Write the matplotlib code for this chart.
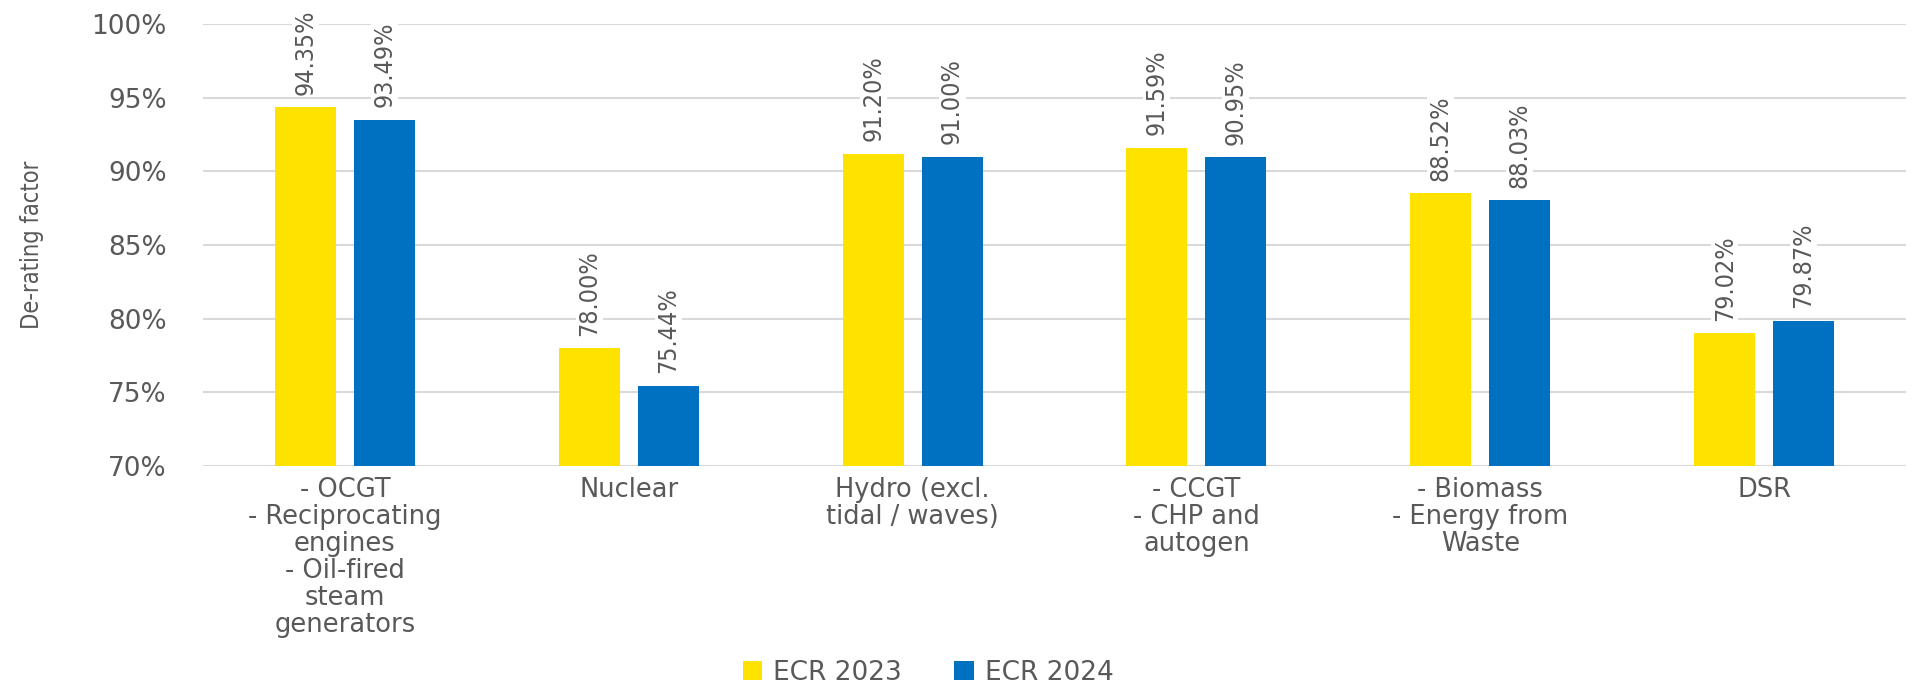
import matplotlib
matplotlib.use("Agg")
import matplotlib.pyplot as plt
import numpy as np

categories = [
    "- OCGT\n- Reciprocating\nengines\n- Oil-fired\nsteam\ngenerators",
    "Nuclear",
    "Hydro (excl.\ntidal / waves)",
    "- CCGT\n- CHP and\nautogen",
    "- Biomass\n- Energy from\nWaste",
    "DSR",
]
series_names = ["ECR 2023", "ECR 2024"]
ecr_2023 = [94.35, 78.00, 91.20, 91.59, 88.52, 79.02]
ecr_2024 = [93.49, 75.44, 91.00, 90.95, 88.03, 79.87]
yticks = [70, 75, 80, 85, 90, 95, 100]

colors = ["#FFE200", "#0070C0"]
text_color = "#595959"
grid_color = "#D9D9D9"

fig = plt.figure(figsize=(19.21, 6.89), dpi=100)
ax = fig.add_axes([203/1921, 1-466/689, (1906-203)/1921, (466-24)/689])

x = np.arange(len(categories))
bw = 0.215
gap = 0.063
off = (bw + gap) / 2
bars1 = ax.bar(x - off, ecr_2023, bw, color=colors[0], label=series_names[0], zorder=2)
bars2 = ax.bar(x + off, ecr_2024, bw, color=colors[1], label=series_names[1], zorder=2)

ax.set_ylim(70, 100)
ax.set_xlim(-0.5, len(categories) - 0.5)
ax.set_yticks(yticks)
ax.set_yticklabels([f"{t}%" for t in yticks], fontsize=19, color=text_color)
ax.set_xticks(x)
ax.set_xticklabels(categories, fontsize=18.5, color=text_color, linespacing=1.05)
ax.tick_params(axis="both", length=0)
ax.tick_params(axis="y", pad=26)
ax.tick_params(axis="x", pad=8)
for s in ax.spines.values():
    s.set_visible(False)
ax.yaxis.grid(True, color=grid_color, lw=1.5, zorder=0)
ax.set_axisbelow(True)

for bars, vals in ((bars1, ecr_2023), (bars2, ecr_2024)):
    for b, v in zip(bars, vals):
        ax.annotate(f"{v:.2f}%", (b.get_x() + b.get_width()/2, v),
                    xytext=(0, 9), textcoords="offset points",
                    rotation=90, ha="center", va="bottom",
                    fontsize=18, color=text_color, fontstretch="condensed",
                    bbox=dict(facecolor="white", edgecolor="none", pad=1),
                    zorder=3)

ax.text(32/1921, 1-245/689, "De-rating factor", transform=fig.transFigure,
        rotation=90, ha="center", va="center", fontsize=17,
        color=text_color, fontstretch="condensed")

fig.legend(loc="center", bbox_to_anchor=(928/1921, 1-673/689), ncol=2,
           frameon=False, fontsize=19, handlelength=0.75, handleheight=0.75,
           handletextpad=0.4, columnspacing=2.0, labelcolor=text_color)

fig.savefig("out.png", dpi=100, facecolor="white")
